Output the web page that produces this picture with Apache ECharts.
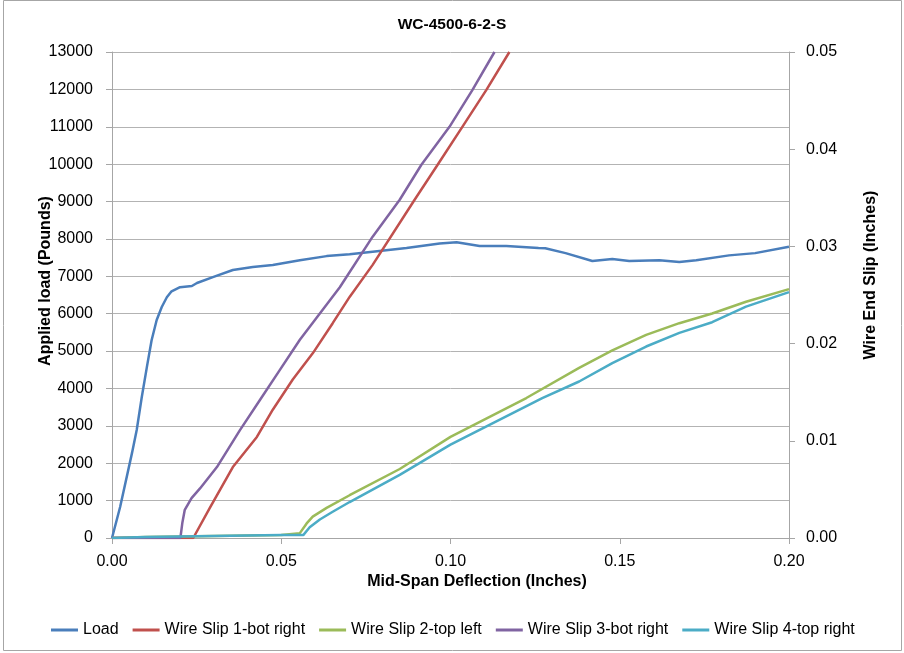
<!DOCTYPE html>
<html>
<head>
<meta charset="utf-8">
<script src="https://cdn.jsdelivr.net/npm/echarts@6/dist/echarts.min.js"></script>
<style>
  html, body { margin: 0; padding: 0; background: #fff; }
  #chart { width: 904px; height: 653px; }
</style>
</head>
<body>
<div id="chart"></div>
<script>
// values: [deflection (in), value]
const loadData = [
  [0, 0], [0.0024, 830], [0.0059, 2270], [0.0073, 2890], [0.0088, 3770], [0.0103, 4570],
  [0.0117, 5290], [0.0132, 5830], [0.0147, 6180], [0.0162, 6440], [0.0176, 6600],
  [0.0201, 6710], [0.0236, 6740], [0.0251, 6820], [0.0298, 6980], [0.0357, 7170],
  [0.0416, 7250], [0.0475, 7300], [0.0555, 7430], [0.0634, 7540], [0.0702, 7590],
  [0.077, 7660], [0.087, 7760], [0.0968, 7880], [0.1018, 7910], [0.1086, 7810],
  [0.1165, 7810], [0.126, 7760], [0.128, 7750], [0.134, 7620], [0.1419, 7410],
  [0.1478, 7460], [0.1528, 7410], [0.1617, 7430], [0.1676, 7380], [0.1726, 7430],
  [0.1823, 7560], [0.190, 7620], [0.2, 7790]
];
const slip1Data = [
  [0, 0], [0.024, 0], [0.0289, 0.0031], [0.0357, 0.0073], [0.0428, 0.0104],
  [0.0475, 0.0132], [0.0534, 0.0163], [0.0593, 0.019], [0.0652, 0.0221], [0.0702, 0.0248],
  [0.077, 0.0281], [0.0894, 0.0348], [0.0962, 0.0384], [0.1035, 0.0423], [0.1106, 0.0461],
  [0.1174, 0.05]
];
const slip2Data = [
  [0, 0], [0.01, 0.0001], [0.03, 0.0002], [0.05, 0.0003], [0.0555, 0.0005], [0.0575, 0.0015],
  [0.0593, 0.0022], [0.0634, 0.0031], [0.0702, 0.0044], [0.085, 0.0071], [0.1, 0.0104],
  [0.1224, 0.0144], [0.138, 0.0175], [0.1478, 0.0193], [0.1578, 0.0209], [0.1676, 0.0221],
  [0.1773, 0.0231], [0.1873, 0.0243], [0.2, 0.0256]
];
const slip3Data = [
  [0, 0], [0.0202, 0], [0.0208, 0.0016], [0.0215, 0.0029], [0.0235, 0.0041], [0.026, 0.0051],
  [0.031, 0.0073], [0.0378, 0.0111], [0.0437, 0.0142], [0.0496, 0.0173], [0.0555, 0.0204],
  [0.0614, 0.0231], [0.0673, 0.0258], [0.077, 0.031], [0.085, 0.0348], [0.0914, 0.0384],
  [0.0997, 0.0423], [0.1065, 0.0461], [0.113, 0.05]
];
const slip4Data = [
  [0, 0], [0.01, 0.0001], [0.03, 0.0002], [0.05, 0.0003], [0.0565, 0.0003], [0.057, 0.0004],
  [0.0584, 0.0011], [0.0614, 0.0019], [0.0652, 0.0027], [0.0702, 0.0037], [0.085, 0.0065],
  [0.1, 0.0096], [0.1271, 0.0144], [0.138, 0.0161], [0.1478, 0.018], [0.1578, 0.0197],
  [0.1676, 0.0211], [0.1773, 0.0222], [0.1873, 0.0238], [0.2, 0.0253]
];
const seriesNames = ['Load', 'Wire Slip 1-bot right', 'Wire Slip 2-top left', 'Wire Slip 3-bot right', 'Wire Slip 4-top right'];
const seriesColors = ['#4a7ebb', '#c0504d', '#9bbb59', '#8064a2', '#4bacc6'];

const font = 'Liberation Sans, Arial, sans-serif';
const gray = '#a6a6a6';
const nameStyle = { fontFamily: font, fontSize: 16, fontWeight: 'bold', fill: '#000', align: 'center', verticalAlign: 'middle' };

const chart = echarts.init(document.getElementById('chart'));

function line(i, data, yAxisIndex) {
  return {
    name: seriesNames[i],
    type: 'line',
    data: data,
    yAxisIndex: yAxisIndex,
    showSymbol: false,
    symbol: 'none',
    lineStyle: { width: 2.5, color: seriesColors[i] },
    itemStyle: { color: seriesColors[i] }
  };
}

chart.setOption({
  animation: false,
  textStyle: { fontFamily: font },
  graphic: [{
    type: 'rect',
    shape: { x: 3.5, y: 0.5, width: 898, height: 650 },
    style: { fill: 'none', stroke: gray, lineWidth: 1 },
    silent: true
  }, {
    // axis titles placed where the reference has them (not centred on the plot)
    type: 'text', x: 477, y: 582,
    style: Object.assign({ text: 'Mid-Span Deflection (Inches)' }, nameStyle)
  }, {
    type: 'text', x: 46, y: 281, rotation: Math.PI / 2,
    style: Object.assign({ text: 'Applied load (Pounds)' }, nameStyle)
  }, {
    type: 'text', x: 871, y: 275, rotation: Math.PI / 2,
    style: Object.assign({ text: 'Wire End Slip (Inches)' }, nameStyle)
  }],
  title: {
    text: 'WC-4500-6-2-S',
    left: 'center',
    top: 12,
    textStyle: { fontFamily: font, fontSize: 15.5, fontWeight: 'bold', color: '#000' }
  },
  grid: { left: 112, right: 115, top: 52, bottom: 115 },
  legend: {
    top: 617,
    left: 46,
    icon: 'rect',
    itemWidth: 27,
    itemHeight: 3,
    itemGap: 14,
    textStyle: { fontFamily: font, fontSize: 16, color: '#000' },
    data: seriesNames
  },
  xAxis: {
    type: 'value',
    min: 0, max: 0.2, interval: 0.05,
    axisLine: { lineStyle: { color: gray } },
    axisTick: { show: true, length: 6, lineStyle: { color: gray } },
    axisLabel: { margin: 16, fontSize: 16, color: '#000', formatter: v => v.toFixed(2) },
    splitLine: { show: false }
  },
  yAxis: [{
    type: 'value',
    min: 0, max: 13000, interval: 1000,
    axisLine: { show: true, lineStyle: { color: gray } },
    axisTick: { show: true, length: 6, lineStyle: { color: gray } },
    axisLabel: { margin: 19, fontSize: 16, color: '#000', formatter: v => String(v) },
    splitLine: { show: true, lineStyle: { color: '#b3b3b3', width: 1 } }
  }, {
    type: 'value',
    min: 0, max: 0.05, interval: 0.01,
    axisLine: { show: true, lineStyle: { color: gray } },
    axisTick: { show: true, length: 6, lineStyle: { color: gray } },
    axisLabel: { margin: 17, fontSize: 16, color: '#000', formatter: v => v.toFixed(2) },
    splitLine: { show: false }
  }],
  series: [
    line(0, loadData, 0),
    line(1, slip1Data, 1),
    line(2, slip2Data, 1),
    line(3, slip3Data, 1),
    line(4, slip4Data, 1)
  ]
});
</script>
</body>
</html>
